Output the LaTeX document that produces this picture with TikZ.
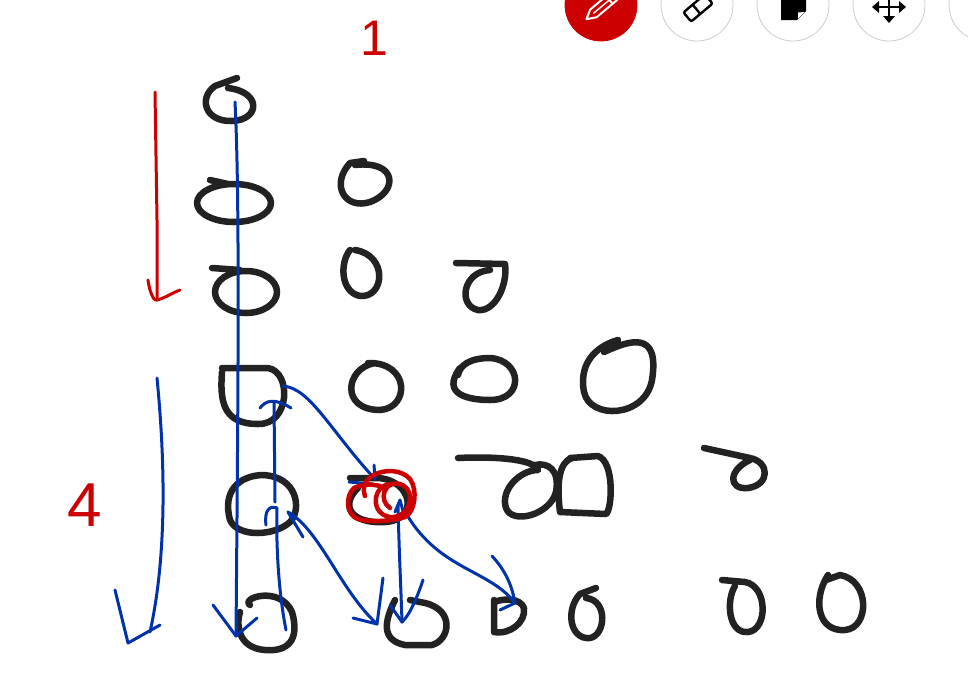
\documentclass[tikz,border=0pt]{standalone}
\usepackage{fontspec}
\setmainfont{Liberation Sans}
\usetikzlibrary{arrows.meta}
\definecolor{ink}{HTML}{222222}
\definecolor{pen}{HTML}{0033AA}
\definecolor{redpen}{HTML}{CC0000}
\tikzset{
  loop/.style={draw=ink,line width=6.5pt,line cap=round,line join=round},
  blue/.style={draw=pen,line width=3pt,line cap=round,line join=round},
  red/.style={draw=redpen,line width=3pt,line cap=round,line join=round},
  redthick/.style={draw=redpen,line width=4.5pt,line cap=round,line join=round},
  tool/.style={circle,minimum size=72pt,draw=black!20,line width=0.8pt,fill=white},
  digit/.style={text=redpen,inner sep=0pt}
}
\begin{document}
\begin{tikzpicture}[x=1pt,y=-1pt]
\useasboundingbox[fill=white] (0,0) rectangle (968,694);

% ---------- toolbar ----------
\node[tool,fill=redpen,draw=redpen] (t1) at (601,5) {};
\node[tool] (t2) at (697,5) {};
\node[tool] (t3) at (793,5) {};
\node[tool] (t4) at (889,5) {};
\node[tool] (t5) at (985,5) {};
% pencil
\begin{scope}[shift={(601,7)},rotate=40]
  \draw[white,line width=2pt,line join=round] (-10,-5) -- (17,-5) -- (17,5) -- (-10,5) -- (-19,0) -- cycle;
  \draw[white,line width=2pt] (11,-5) -- (11,5);
  \draw[white,line width=1.4pt] (-10,0) -- (11,0);
\end{scope}
% eraser
\begin{scope}[shift={(698,8)},rotate=40]
  \draw[black,line width=2.4pt,rounded corners=2pt] (-14,-6) rectangle (14,6);
  \draw[black,line width=2.4pt] (-2,-6) -- (-2,6);
\end{scope}
% sticky note
\fill[black] (781,-6) -- (806,-6) -- (806,11) -- (797,20) -- (781,20) -- cycle;
\fill[white] (798,18.5) -- (804.5,12) -- (798,12.5) -- cycle;
% move icon
\draw[black,line width=2.6pt] (875,7) -- (903,7) (889,-6) -- (889,20);
\fill[black] (872,7) -- (879,1) -- (879,13) -- cycle;
\fill[black] (906,7) -- (899,1) -- (899,13) -- cycle;
\fill[black] (889,23) -- (883,16) -- (895,16) -- cycle;

% ---------- black loops (triangle of zeros) ----------
% row 1
\draw[loop] (237,78) -- (215,86) .. controls (198,98) and (205,122) .. (232,121) .. controls (260,120) and (262,92) .. (228,88);
% row 2
\draw[loop] (210,180) -- (228,184) (234,203) ellipse [x radius=37,y radius=19];
\draw[loop] (364,161) -- (350,163) .. controls (330,185) and (345,210) .. (370,202) .. controls (398,192) and (398,160) .. (355,165);
% row 3
\draw[loop] (212,268) -- (240,270) (246,292) ellipse [x radius=31,y radius=21];
\draw[loop] (350,250) .. controls (340,262) and (340,292) .. (360,296) .. controls (385,298) and (388,255) .. (355,250);
\draw[loop] (456,263) -- (505,264) .. controls (508,285) and (495,312) .. (478,310) .. controls (458,306) and (462,272) .. (490,270);
% row 4
\draw[loop] (222,368) -- (268,368) .. controls (292,372) and (290,425) .. (258,424) .. controls (222,424) and (220,400) .. (222,372);
\draw[loop] (375,363) .. controls (345,368) and (340,410) .. (380,410) .. controls (410,408) and (410,362) .. (368,363);
\draw[loop] (460,368) .. controls (440,395) and (470,400) .. (490,400) .. controls (525,400) and (522,360) .. (490,358) .. controls (470,358) and (460,365) .. (458,375);
\draw[loop] (604,352) .. controls (630,340) and (660,330) .. (652,380) .. controls (645,418) and (590,420) .. (584,392) .. controls (578,360) and (600,345) .. (618,340);
% row 5
\draw[loop] (262,475) .. controls (298,476) and (302,510) .. (290,522) .. controls (275,536) and (238,538) .. (230,520) .. controls (222,490) and (240,476) .. (262,475);
\draw[loop] (350,478) -- (378,478) .. controls (412,480) and (420,520) .. (385,522) .. controls (350,524) and (340,505) .. (358,488);
\draw[loop] (458,458) .. controls (500,456) and (535,460) .. (538,470) .. controls (520,470) and (500,490) .. (506,508) .. controls (512,525) and (550,515) .. (556,492) .. controls (560,470) and (548,462) .. (535,465);
\draw[loop] (570,458) -- (598,456) .. controls (615,462) and (612,510) .. (606,514) -- (560,512) .. controls (556,480) and (560,462) .. (572,458);
\draw[loop] (704,448) -- (750,458) .. controls (770,462) and (770,485) .. (748,488) .. controls (728,490) and (728,470) .. (750,460);
% row 6
\draw[loop] (250,605) .. controls (240,598) and (280,585) .. (292,612) .. controls (300,640) and (288,652) .. (265,650) .. controls (238,648) and (236,625) .. (240,612);
\draw[loop] (395,600) .. controls (385,620) and (380,640) .. (405,645) -- (432,645) .. controls (450,640) and (455,610) .. (425,603) -- (410,600);
\draw[loop] (494,600) -- (494,632) .. controls (510,635) and (526,622) .. (524,608) .. controls (520,598) and (505,598) .. (494,602);
\draw[loop] (596,588) -- (580,594) .. controls (565,610) and (570,640) .. (590,638) .. controls (606,635) and (608,600) .. (586,598);
\draw[loop] (722,580) -- (745,582) .. controls (768,586) and (768,630) .. (748,632) .. controls (728,634) and (726,600) .. (735,586);
\draw[loop] (828,575) .. controls (812,600) and (818,632) .. (845,630) .. controls (870,628) and (870,580) .. (840,575) -- (826,580);

% ---------- red marks ----------
\node[digit,font=\fontsize{50}{50}\selectfont] (one) at (374,38) {1};
\node[digit,font=\fontsize{62}{62}\selectfont] (four) at (85,505) {4};
\coordinate (rtop) at (155,92);
\coordinate (rbot) at (157,300);
\draw[red] (rtop) -- (157,220) -- (rbot);
\draw[red] (148,280) .. controls (150,295) and (155,302) .. (rbot) .. controls (165,298) and (172,293) .. (180,290);

% ---------- blue arrows ----------
\coordinate (z1) at (235,102);
\coordinate (z6a) at (236,636);
\draw[blue] (z1) .. controls (240,200) and (238,400) .. (z6a);
\draw[blue] (213,605) -- (z6a) -- (257,618);

\coordinate (bl1) at (157,378);
\coordinate (bl2) at (150,632);
\draw[blue] (bl1) .. controls (166,470) and (166,560) .. (bl2);
\draw[blue] (115,590) -- (128,643) -- (160,625);

\coordinate (up1) at (286,630);
\coordinate (up2) at (277,508);
\coordinate (up3) at (275,502);
\coordinate (up4) at (274,402);
\draw[blue] (up1) .. controls (278,590) and (276,540) .. (up2);
\draw[blue] (266,525) .. controls (264,510) and (270,505) .. (up2);
\draw[blue] (up3) -- (up4);
\draw[blue] (260,408) .. controls (266,400) and (275,398) .. (291,408);

\coordinate (d1) at (283,386);
\coordinate (d2) at (374,478);
\draw[blue] (d1) .. controls (310,388) and (330,430) .. (d2);
\draw[blue] (374,465) -- (375,479) (349,482) -- (373,484);

\coordinate (e1) at (288,512);
\coordinate (e2) at (377,624);
\draw[blue] (e1) .. controls (320,530) and (340,590) .. (e2);
\draw[blue] (303,537) -- (e1);
\draw[blue] (353,618) -- (e2) -- (383,578);

\coordinate (f1) at (398,505);
\coordinate (f2) at (402,622);
\draw[blue] (f1) .. controls (399,550) and (401,590) .. (f2);
\draw[blue] (390,605) -- (f2) .. controls (410,615) and (418,595) .. (423,580);
\draw[blue] (395,512) -- (400,500) -- (404,515);

\coordinate (g1) at (407,515);
\coordinate (g2) at (515,603);
\draw[blue] (g1) .. controls (440,570) and (490,570) .. (g2);
\draw[blue] (492,556) .. controls (505,570) and (512,585) .. (g2) -- (500,610);

% red loops on the selected zero (drawn over the blue)
\draw[redthick] (365,496) .. controls (362,488) and (365,480) .. (372,476) .. controls (385,468) and (402,470) .. (410,479) .. controls (418,490) and (415,512) .. (405,517) .. controls (390,522) and (368,522) .. (358,519) .. controls (346,515) and (345,496) .. (354,488) .. controls (362,484) and (372,484) .. (380,486);
\draw[redthick] (390,484) .. controls (372,486) and (370,514) .. (390,517) .. controls (410,519) and (418,490) .. (400,484) .. controls (384,480) and (378,500) .. (390,508);
\end{tikzpicture}
\end{document}
